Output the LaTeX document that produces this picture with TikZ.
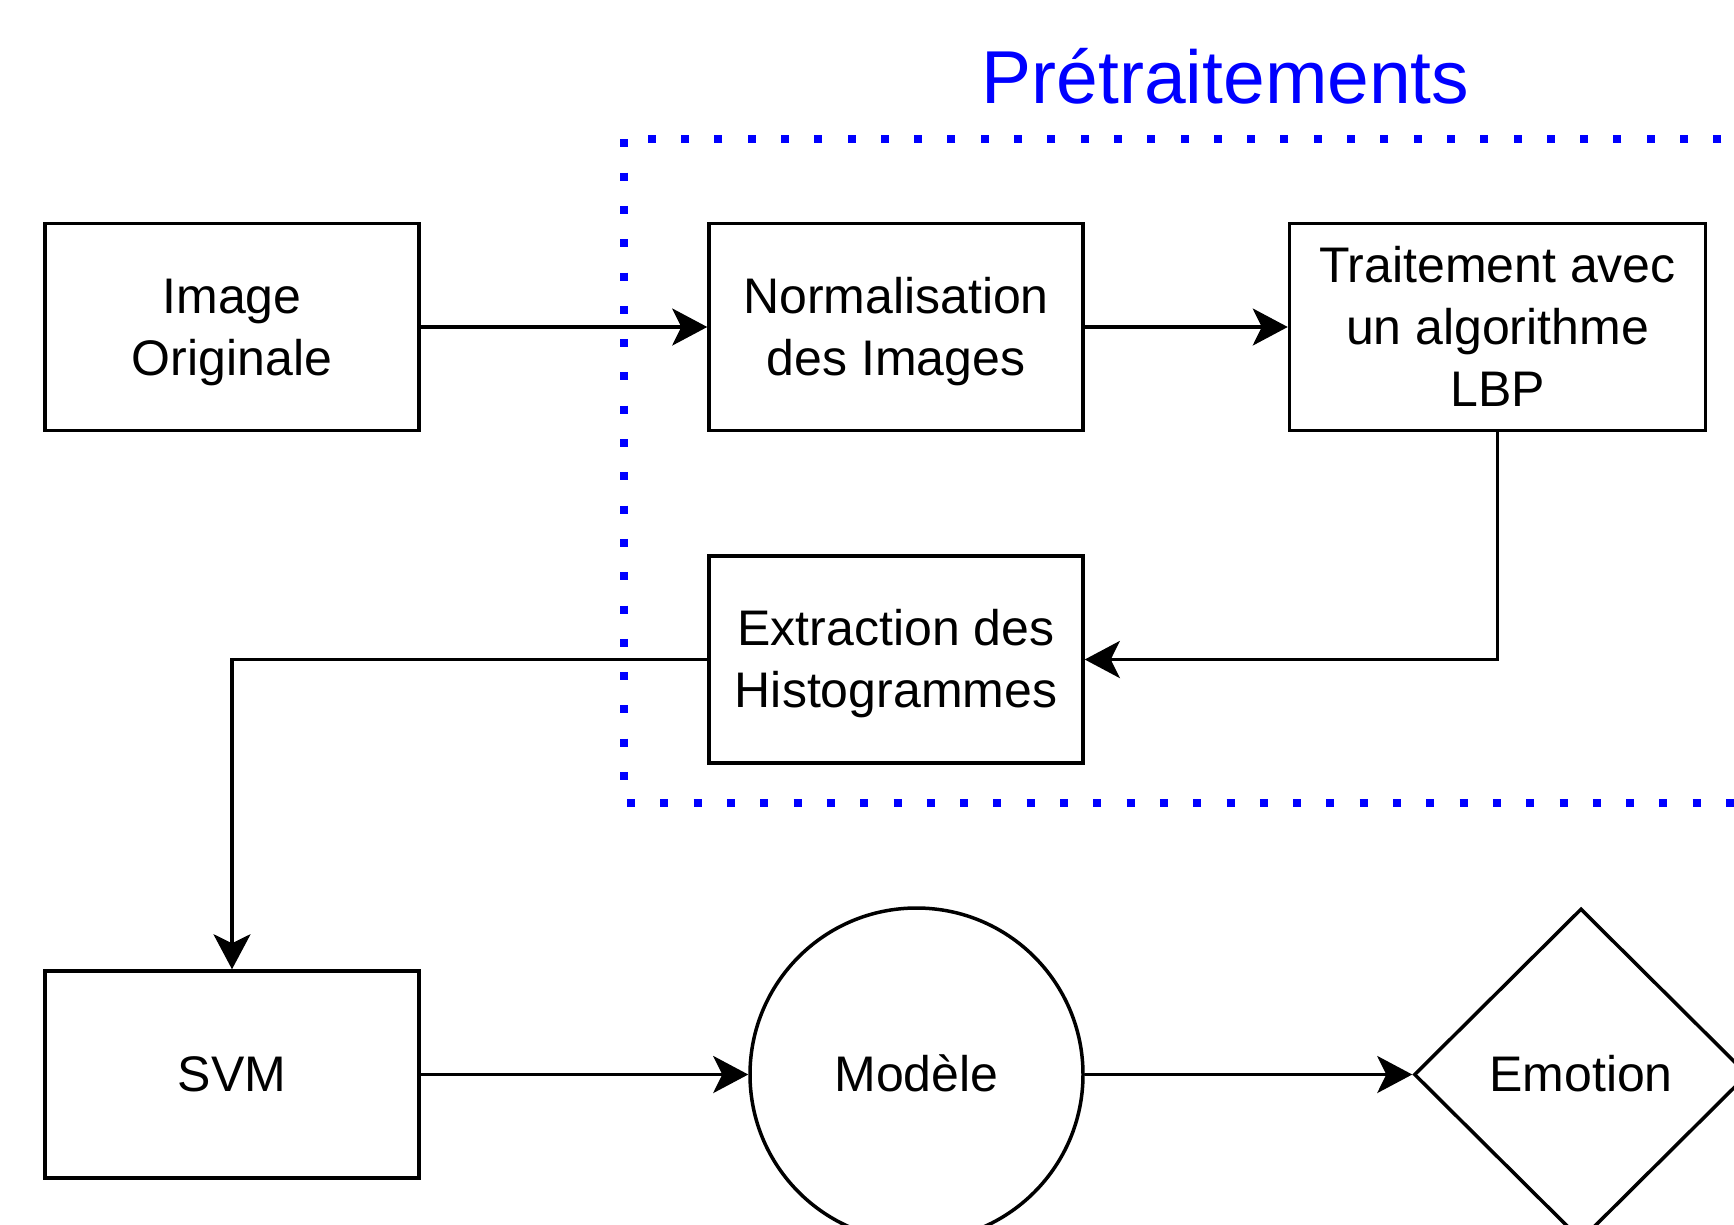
\documentclass[tikz,border=0pt]{standalone}
\usepackage{fontspec}
\setmainfont{Liberation Sans}
\usetikzlibrary{arrows.meta,shapes.geometric}
\definecolor{pureblue}{RGB}{0,0,255}
\newcommand{\ls}{\rule[-13.7pt]{0pt}{62pt}}
\tikzset{
  box/.style={draw=black, line width=3.5pt, minimum width=374pt, minimum height=207pt,
    inner sep=0pt, align=center, font=\fontsize{50}{62}\selectfont},
  roundnode/.style={circle, draw=black, line width=3.5pt, minimum size=333pt, inner sep=0pt,
    font=\fontsize{50}{62}\selectfont},
  decision/.style={diamond, draw=black, line width=3.5pt, minimum width=334pt, minimum height=332pt,
    inner sep=0pt, font=\fontsize{50}{62}\selectfont},
  conn/.style={draw=black, line width=3.5pt, -{Stealth[length=35pt,width=37pt,inset=9pt]}},
  groupframe/.style={draw=pureblue, line width=8pt, dash pattern=on 8pt off 25.3pt},
  titletext/.style={font=\fontsize{75}{90}\selectfont, text=pureblue, anchor=base, inner sep=0pt}
}
\begin{document}
\begin{tikzpicture}[x=1pt,y=-1pt]
\useasboundingbox (0,0) rectangle (1734,1224);
\clip (0,0) rectangle (1734,1224);
\fill[white] (0,0) rectangle (1734,1224);

% group frame
\draw[groupframe] (624.3,139.3) rectangle (1775,802.5);
\node[titletext] (title) at (1225.5,103) {Prétraitements};

% nodes
\node[box] (img) at (232,327) {\ls Image\\\ls Originale};
\node[box] (norm) at (896,327) {\ls Normalisation\\\ls des Images};
\node[box, minimum width=416pt] (lbp) at (1497.5,327) {\ls Traitement avec\\\ls un algorithme\\\ls LBP};
\node[box] (hist) at (896,659.5) {\ls Extraction des\\\ls Histogrammes};
\node[box] (svm) at (232,1074.5) {\ls SVM};
\node[roundnode] (mod) at (916.5,1074.5) {\ls Modèle};
\node[decision] (emo) at (1581,1074.5) {\ls Emotion};

% connectors
\draw[conn] (img) -- (norm);
\draw[conn] (norm) -- (lbp);
\draw[conn] (lbp.south) |- (hist.east);
\draw[conn] (hist.west) -| (svm.north);
\draw[conn] (svm) -- (mod);
\draw[conn] (mod) -- (emo);
\end{tikzpicture}
\end{document}
